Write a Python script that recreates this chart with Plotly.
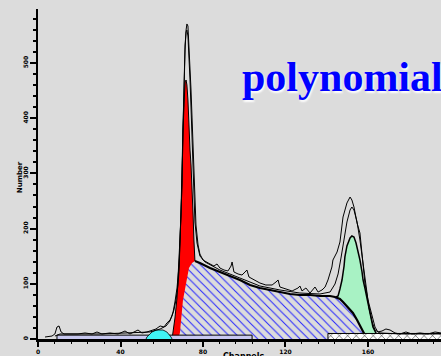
import plotly.graph_objects as go

# ---- data (channels, counts) ----
data_ch = [3.4, 6.8, 8.2, 9.2, 10.2, 11.2, 12.6, 15.5, 19.4, 22.8, 26.2, 28.6, 31.0, 34.9, 38.8, 42.2, 44.6,
           48.5, 50.4, 52.8, 55.3, 57.2, 59.2, 61.1, 62.5, 64.0, 65.0, 65.9, 66.9, 67.9, 68.4, 68.8, 69.3,
           69.8, 70.3, 70.8, 71.3, 71.8, 72.2, 72.7, 73.2, 73.7, 74.2, 74.7, 75.2, 75.6, 76.1, 76.6, 77.6,
           78.5, 80.0, 81.5, 83.4, 85.3, 86.8, 88.2, 90.2, 92.1, 93.6, 94.1, 95.0, 97.0, 98.9, 100.4, 101.3,
           102.3, 104.7, 107.6, 110.5, 113.5, 115.4, 116.4, 117.3, 120.2, 123.2, 126.1, 127.0, 128.0, 129.9,
           131.9, 134.3, 135.8, 137.7, 139.2, 140.6, 142.5, 143.0, 145.0, 146.4, 147.9, 149.8, 151.3, 152.2,
           153.2, 154.7, 156.1, 157.1, 158.5, 160.0, 162.0, 163.4, 164.8, 166.8, 168.7, 170.7, 173.1, 175.5,
           178.4, 181.3, 185.2, 189.1, 192.5, 195.4]
data_cnt = [3.6, 5.4, 9.1, 21.7, 23.6, 12.7, 9.1, 9.1, 9.1, 10.9, 9.1, 12.7, 9.1, 10.9, 9.1, 14.5, 9.1,
            16.3, 10.9, 12.7, 16.3, 18.1, 23.6, 21.7, 29.0, 34.4, 41.7, 52.5, 70.7, 97.8, 125.0, 161.2, 212.0,
            279.0, 378.6, 460.1, 523.6, 559.8, 570.7, 567.0, 532.6, 496.4, 451.1, 400.4, 342.4, 291.7, 242.8,
            206.5, 170.3, 154.0, 143.1, 139.5, 135.9, 132.2, 135.9, 128.6, 125.0, 123.2, 132.2, 139.5, 121.4,
            117.8, 115.9, 121.4, 125.0, 112.3, 106.9, 101.4, 97.8, 97.8, 103.3, 106.9, 94.2, 90.6, 87.0, 92.4,
            96.0, 87.0, 92.4, 83.3, 94.2, 85.1, 88.8, 94.2, 106.9, 130.4, 143.1, 157.6, 175.7, 221.0, 246.4,
            257.2, 251.8, 239.1, 210.1, 192.0, 148.6, 101.4, 70.7, 39.9, 21.7, 12.7, 14.5, 18.1, 16.3, 10.9,
            9.1, 12.7, 9.1, 10.9, 9.1, 12.7, 10.9]

fit_ch = [8.2, 10.7, 30.1, 49.5, 54.3, 59.2, 62.1, 64.0, 65.5, 66.4, 67.4, 68.4, 68.8, 69.3, 69.8, 70.3,
          70.8, 71.3, 71.8, 72.2, 72.7, 73.2, 73.7, 74.2, 74.7, 75.2, 75.6, 76.1, 77.1, 78.5, 81.0, 88.2,
          97.9, 107.6, 117.3, 127.0, 136.7, 141.6, 144.0, 145.5, 146.9, 148.4, 149.8, 151.3, 152.2, 153.2,
          154.7, 156.1, 157.6, 159.0, 160.5, 162.0, 163.4, 165.8, 175.5, 195.4]
fit_cnt = [5.4, 9.1, 9.1, 10.9, 12.7, 18.1, 23.6, 32.6, 48.9, 67.0, 92.4, 134.1, 170.3, 224.6, 306.2, 396.7,
           478.3, 532.6, 556.2, 559.8, 548.9, 514.5, 469.2, 418.5, 360.5, 302.5, 251.8, 212.0, 173.9, 150.4,
           139.5, 125.0, 110.5, 96.0, 88.8, 83.3, 81.5, 85.1, 99.6, 117.8, 146.7, 179.3, 212.0, 233.7, 239.1,
           233.7, 212.0, 179.3, 134.1, 92.4, 56.2, 30.8, 16.3, 10.9, 9.1, 9.1]

g1_ch = [65.0, 65.5, 66.4, 67.4, 68.4, 68.8, 69.3, 69.8, 70.3, 70.8, 71.3, 71.8, 72.2, 72.7, 73.2, 73.7,
         74.2, 74.7, 75.2, 75.6, 76.1]
g1_cnt = [0, 10.9, 38.0, 74.3, 134.1, 179.3, 224.6, 279.0, 378.6, 432.1, 465.6, 469.2, 460.1, 433.0, 378.6,
          342.4, 315.2, 279.0, 224.6, 179.3, 141.3]

s_ch = [67.9, 68.8, 70.3, 71.8, 73.2, 74.7, 76.1, 78.5, 83.4, 88.2, 93.1, 97.9, 102.8, 107.6, 112.5, 117.3,
        122.2, 127.0, 131.9, 136.7, 141.6, 144.0, 146.4, 147.9, 150.3, 152.7, 154.7, 156.1, 157.1, 158.5, 159.5]
s_cnt = [0, 10.9, 70.7, 101.4, 128.6, 137.7, 141.3, 137.7, 128.6, 121.4, 114.1, 106.9, 97.8, 92.4, 88.8, 85.1,
         81.5, 79.7, 79.7, 77.9, 77.9, 76.1, 72.5, 67.0, 58.0, 47.1, 34.4, 23.6, 16.3, 7.2, 0]

g2_ch = [144.5, 145.5, 146.4, 147.4, 148.4, 148.8, 149.8, 151.3, 152.2, 153.2, 154.2, 155.2, 156.1, 157.1,
         157.6, 158.5, 159.5, 161.0, 162.4, 163.4, 164.4, 165.3]
g2_cnt = [76.1, 77.9, 90.6, 106.9, 132.2, 148.6, 168.5, 183.0, 186.6, 184.8, 173.9, 159.4, 143.1, 121.4,
          106.9, 92.4, 76.1, 47.1, 21.7, 14.5, 9.1, 0]

apo_ch = [52.4, 52.8, 55.3, 57.2, 60.6, 62.5, 64.5, 65.0]
apo_cnt = [0, 3.6, 12.7, 16.3, 16.3, 12.7, 3.6, 0]

debris_ch = [9.2, 9.2, 103.8, 103.8]
debris_cnt = [0, 7, 7, 0]

agg_ch = [140.6, 140.6, 195.4]
agg_cnt = [0, 10, 10]

x_ticks = [0, 40, 80, 120, 160]
y_ticks = [0, 100, 200, 300, 400, 500]

BG = "#dcdcdc"
fig = go.Figure()

fig.add_trace(go.Scatter(x=g1_ch, y=g1_cnt, mode="lines", fill="tozeroy", fillcolor="#ff0000",
                         line=dict(color="black", width=1)))
fig.add_trace(go.Scatter(x=g2_ch, y=g2_cnt, mode="lines", fill="tozeroy", fillcolor="#a8f2c4",
                         line=dict(color="black", width=1.5)))
fig.add_trace(go.Scatter(x=s_ch, y=s_cnt, mode="lines", fill="tozeroy",
                         line=dict(width=0, color=BG),
                         fillpattern=dict(shape="\\", fgcolor="#2020ff", bgcolor=BG, size=6,
                                          solidity=0.16, fillmode="replace")))
# S-phase top outline
fig.add_trace(go.Scatter(x=s_ch[6:], y=s_cnt[6:], mode="lines", line=dict(color="black", width=2.2)))
fig.add_trace(go.Scatter(x=debris_ch, y=debris_cnt, mode="lines", fill="toself", fillcolor="#c8c8f0",
                         line=dict(color="black", width=1)))
fig.add_trace(go.Scatter(x=agg_ch, y=agg_cnt, mode="lines", fill="tozeroy",
                         line=dict(color="black", width=1),
                         fillpattern=dict(shape="x", fgcolor="black", bgcolor="white", size=6,
                                          solidity=0.15, fillmode="replace")))
fig.add_trace(go.Scatter(x=apo_ch, y=apo_cnt, mode="lines", fill="toself", fillcolor="#40f4f4",
                         line=dict(color="black", width=0.8)))
fig.add_trace(go.Scatter(x=fit_ch, y=fit_cnt, mode="lines", line=dict(color="black", width=1)))
fig.add_trace(go.Scatter(x=data_ch, y=data_cnt, mode="lines", line=dict(color="black", width=1)))

tickfont = dict(family="DejaVu Sans", size=6, color="black", weight="bold")
fig.update_layout(
    width=441, height=356,
    margin=dict(l=38, r=0, t=9, b=17, autoexpand=False),
    paper_bgcolor=BG, plot_bgcolor=BG,
    showlegend=False,
    xaxis=dict(range=[0, 195.4], showline=True, linecolor="black", linewidth=3, automargin=False,
               ticks="outside", ticklen=5, tickwidth=1.5, tickcolor="black",
               tickvals=x_ticks, ticktext=[str(v) for v in x_ticks], tickfont=tickfont,
               showgrid=False, zeroline=False,
               minor=dict(dtick=8, ticklen=2, ticks="outside", tickcolor="black", tickwidth=1)),
    yaxis=dict(range=[0, 597.8], showline=True, linecolor="black", linewidth=2, automargin=False,
               ticks="outside", ticklen=6, tickwidth=1.5, tickcolor="black",
               tickvals=y_ticks, ticktext=[str(v) for v in y_ticks], tickfont=tickfont,
               tickangle=-90, showgrid=False, zeroline=False,
               minor=dict(dtick=20, ticklen=3, ticks="outside", tickcolor="black", tickwidth=1.5)),
    annotations=[
        dict(text="polynomial", xref="paper", yref="paper", x=0.5, y=0.794,
             xanchor="left", yanchor="middle", showarrow=False,
             font=dict(family="Liberation Serif", size=42, color="#0000ff", weight="bold",
                       shadow="1px 2px 2px #ffffff")),
        dict(text="Number", xref="paper", yref="paper", x=-0.045, y=0.49, textangle=-90,
             xanchor="center", yanchor="middle", showarrow=False,
             font=dict(family="DejaVu Sans", size=7, color="black", weight="bold")),
        dict(text="Channels", xref="paper", yref="paper", x=0.51, y=-0.032,
             xanchor="center", yanchor="top", showarrow=False,
             font=dict(family="DejaVu Sans", size=8, color="black", weight="bold")),
    ],
)

fig.write_html("out.html", config={"displayModeBar": False},
               post_script="document.body.style.margin='0';document.body.style.overflow='hidden';")
